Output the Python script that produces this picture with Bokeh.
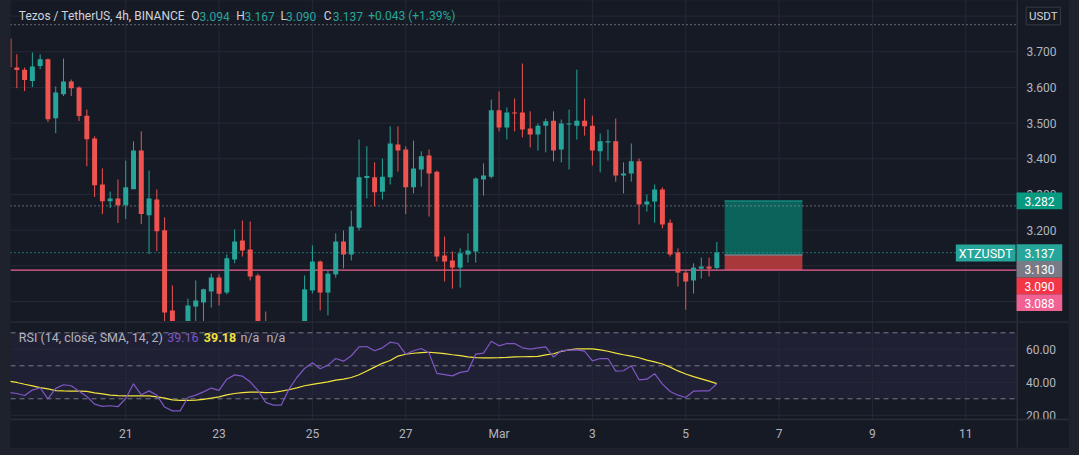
from bokeh.plotting import figure
from bokeh.layouts import column
from bokeh.models import Range1d, GlobalInlineStyleSheet
from bokeh.core.properties import value
from bokeh.embed import file_html
from bokeh.resources import INLINE

# ---------------- data (4h candles, XTZ/USDT, index -1 .. 90) ----------------
opens = [3.737, 3.656, 3.650, 3.618, 3.660, 3.679, 3.514, 3.581, 3.617, 3.600,
         3.521, 3.457, 3.328, 3.281, 3.289, 3.270, 3.315, 3.423, 3.242, 3.286,
         3.200, 2.975, 2.905, 2.930, 2.986, 2.997, 3.028, 3.067, 3.025, 3.118,
         3.171, 3.146, 3.073, 2.930, 2.900, 2.890, 2.885, 2.905, 2.940, 3.031,
         3.112, 3.025, 3.076, 3.168, 3.132, 3.207, 3.346, 3.348, 3.308, 3.348,
         3.440, 3.426, 3.320, 3.370, 3.409, 3.364, 3.129, 3.115, 3.095, 3.132,
         3.140, 3.342, 3.350, 3.536, 3.488, 3.530, 3.530, 3.485, 3.468, 3.493,
         3.507, 3.426, 3.496, 3.493, 3.507, 3.493, 3.421, 3.446, 3.449, 3.353,
         3.359, 3.393, 3.272, 3.280, 3.314, 3.221, 3.137, 3.081, 3.059, 3.092,
         3.098, 3.094]
highs = [3.745, 3.693, 3.656, 3.698, 3.693, 3.681, 3.603, 3.681, 3.622, 3.603,
         3.538, 3.463, 3.373, 3.308, 3.342, 3.395, 3.449, 3.477, 3.367, 3.314,
         3.236, 3.045, 2.940, 3.008, 3.059, 3.036, 3.078, 3.076, 3.132, 3.202,
         3.227, 3.224, 3.078, 2.972, 2.930, 2.920, 2.935, 2.943, 3.073, 3.157,
         3.115, 3.087, 3.191, 3.199, 3.255, 3.454, 3.435, 3.390, 3.401, 3.491,
         3.491, 3.435, 3.451, 3.421, 3.426, 3.367, 3.182, 3.140, 3.149, 3.191,
         3.348, 3.387, 3.566, 3.589, 3.544, 3.569, 3.667, 3.533, 3.499, 3.513,
         3.533, 3.510, 3.538, 3.650, 3.569, 3.521, 3.471, 3.482, 3.513, 3.390,
         3.443, 3.401, 3.300, 3.328, 3.320, 3.230, 3.149, 3.086, 3.107, 3.123,
         3.123, 3.167]
lows = [3.650, 3.598, 3.590, 3.601, 3.651, 3.503, 3.472, 3.576, 3.576, 3.506,
        3.379, 3.293, 3.245, 3.262, 3.220, 3.231, 3.315, 3.217, 3.133, 3.141,
        2.930, 2.870, 2.880, 2.910, 2.935, 2.940, 2.983, 2.989, 3.020, 3.107,
        3.126, 3.059, 2.910, 2.870, 2.800, 2.820, 2.870, 2.900, 2.930, 3.023,
        2.975, 2.961, 3.067, 3.093, 3.115, 3.199, 3.289, 3.267, 3.286, 3.328,
        3.364, 3.245, 3.303, 3.322, 3.238, 3.112, 3.056, 3.036, 3.039, 3.109,
        3.109, 3.297, 3.345, 3.477, 3.454, 3.477, 3.460, 3.432, 3.423, 3.418,
        3.393, 3.390, 3.370, 3.454, 3.465, 3.381, 3.362, 3.395, 3.336, 3.303,
        3.336, 3.216, 3.252, 3.221, 3.205, 3.126, 3.042, 2.977, 3.022, 3.064,
        3.070, 3.090]
closes = [3.657, 3.649, 3.621, 3.659, 3.679, 3.511, 3.586, 3.617, 3.598, 3.520,
          3.455, 3.326, 3.281, 3.289, 3.270, 3.320, 3.423, 3.245, 3.289, 3.197,
          2.969, 2.910, 2.930, 2.989, 3.003, 3.034, 3.067, 3.022, 3.121, 3.168,
          3.143, 3.070, 2.930, 2.900, 2.890, 2.885, 2.905, 2.940, 3.034, 3.112,
          3.025, 3.078, 3.168, 3.132, 3.210, 3.348, 3.352, 3.306, 3.350, 3.443,
          3.423, 3.320, 3.373, 3.407, 3.359, 3.126, 3.112, 3.095, 3.135, 3.143,
          3.345, 3.353, 3.536, 3.488, 3.530, 3.527, 3.482, 3.468, 3.493, 3.505,
          3.423, 3.499, 3.499, 3.507, 3.491, 3.423, 3.449, 3.449, 3.353, 3.359,
          3.393, 3.272, 3.280, 3.314, 3.216, 3.132, 3.081, 3.056, 3.095, 3.098,
          3.092, 3.137]
first_index = -1

rsi = [33.8, 33.2, 32.0, 35.3, 36.7, 30.0, 36.3, 38.5, 37.9, 34.6,
       31.4, 26.8, 25.4, 25.8, 25.2, 30.2, 39.1, 32.4, 34.8, 32.2,
       25.0, 22.7, 22.7, 30.8, 32.2, 34.2, 36.5, 35.1, 41.9, 44.5,
       43.7, 40.3, 35.1, 27.8, 26.2, 26.2, 35.9, 42.9, 48.4, 51.8,
       48.2, 50.4, 54.4, 52.8, 56.1, 61.5, 61.7, 59.1, 60.9, 64.3,
       63.5, 57.1, 59.1, 60.5, 57.7, 45.4, 44.7, 43.9, 46.0, 46.8,
       57.1, 57.7, 64.9, 62.1, 63.5, 63.5, 60.9, 60.1, 60.9, 61.5,
       55.3, 59.1, 59.5, 59.7, 58.9, 53.0, 54.4, 54.4, 46.8, 47.0,
       50.0, 41.5, 41.9, 45.2, 38.9, 34.4, 32.2, 30.8, 34.6, 34.8,
       34.8, 39.16]
rsi_ma = [40.6, 39.9, 38.8, 37.8, 36.8, 36.0, 35.0, 34.8, 34.7, 34.6,
          34.5, 33.6, 33.0, 32.2, 31.9, 31.8, 31.8, 31.8, 31.8, 31.2,
          30.4, 29.4, 29.0, 29.1, 29.2, 29.7, 30.4, 31.2, 32.4, 33.2,
          33.8, 34.0, 34.0, 33.8, 33.9, 34.6, 35.5, 36.6, 37.9, 38.7,
          39.5, 40.3, 41.3, 41.9, 42.9, 44.6, 46.8, 49.2, 51.5, 53.2,
          55.9, 57.0, 57.6, 58.0, 58.2, 57.8, 57.4, 56.7, 56.2, 55.4,
          54.9, 54.8, 54.8, 54.9, 55.1, 55.4, 55.5, 55.6, 55.7, 56.6,
          57.3, 58.7, 59.6, 60.3, 60.3, 60.2, 59.6, 58.8, 57.7, 56.7,
          55.9, 54.9, 53.4, 52.4, 51.1, 49.2, 46.9, 45.0, 43.4, 42.1,
          40.7, 39.18]

date_tick_index = [14, 26, 38, 50, 62, 74, 86, 98, 110, 122]
date_tick_labels = ["21", "23", "25", "27", "Mar", "3", "5", "7", "9", "11"]
price_grid = [3.8, 3.7, 3.6, 3.5, 3.4, 3.3, 3.2, 3.1, 3.0, 2.9]
price_labels = [3.7, 3.6, 3.5, 3.4, 3.3, 3.2]
rsi_grid = [20, 40, 60, 80]
rsi_levels = [30, 50, 70]
rsi_axis_ticks = [60, 40, 20]

position_start, position_end = 91, 101
target_price, entry_price, stop_price = 3.282, 3.130, 3.090
last_price = 3.137
hline_price = 3.088
dotted_prices = [3.776, 3.268]
price_tags = ["3.282", "3.137", "3.130", "3.090", "3.088"]
price_tag_colors = ["#089981", "#26a69a", "#787b86", "#f23645", "#f06292"]
header_values = ["3.094", "3.167", "3.090", "3.137"]
header_change = "+0.043 (+1.39%)"
rsi_value, rsi_ma_value = "39.16", "39.18"

# ---------------- pixel helpers (page coordinates -> data) ----------------
X0, DX = 16.33, 7.778
def px2i(px):
    return (px - X0) / DX
def py2p(py):
    return 3.7 - (py - 51.3) / 356.7
def py2r(py):
    return 70 - (py - 332.3) / 1.65

BG = "#161a25"
FRAME = "#1e222d"
GRID = "#252935"
SEP = "#2a2e39"
TXT = "#b2b5be"
UP, DOWN = "#26a69a", "#ef5350"
FONT = value("Roboto")

PANE_L, PANE_R, AXIS_R = 10, 1016.7, 1068
xr = Range1d(px2i(PANE_L), px2i(AXIS_R))

# ================= main pane =================
p = figure(width=1079, height=321, x_range=xr, y_range=Range1d(py2p(321), py2p(0)),
           output_backend="svg", toolbar_location=None, x_axis_type=None, y_axis_type=None,
           min_border_left=10, min_border_right=11, min_border_top=0, min_border_bottom=0,
           background_fill_color=BG, border_fill_color=FRAME, outline_line_color=None)
p.grid.visible = False

xl, xe = px2i(PANE_L), px2i(PANE_R)
# grid
p.segment(x0=[xl] * len(price_grid), x1=[xe] * len(price_grid), y0=price_grid, y1=price_grid,
          line_color=GRID, line_width=1)
p.segment(x0=date_tick_index, x1=date_tick_index, y0=[py2p(330)] * 10, y1=[py2p(-5)] * 10,
          line_color=GRID, line_width=1)

# position tool
p.quad(left=[position_start], right=[position_end], bottom=[entry_price], top=[target_price],
       fill_color="#0b6b63", fill_alpha=0.9, line_color=None)
p.quad(left=[position_start], right=[position_end], bottom=[stop_price - 0.002], top=[entry_price],
       fill_color="#b03a3a", fill_alpha=0.95, line_color=None)
p.segment(x0=[position_start], x1=[position_end], y0=[target_price], y1=[target_price],
          line_color="#13897c", line_width=1.5)
p.segment(x0=[position_start], x1=[position_end], y0=[entry_price], y1=[entry_price],
          line_color="#787b86", line_width=1.5)

# horizontal lines
p.segment(x0=[xl] * 2, x1=[xe] * 2, y0=dotted_prices, y1=dotted_prices,
          line_color="#9598a1", line_dash="1 3", line_width=1.3)
p.segment(x0=[xl], x1=[xe], y0=[last_price], y1=[last_price],
          line_color=UP, line_dash="1 3", line_width=1.3)
p.segment(x0=[xl], x1=[xe], y0=[hline_price], y1=[hline_price],
          line_color="#f06292", line_width=1.2)

# candles
idx = list(range(first_index, first_index + len(opens)))
cols = [UP if c >= o else DOWN for o, c in zip(opens, closes)]
minh = 1.0 / 356.7
btop = [max(o, c) if abs(o - c) > minh else max(o, c) + minh / 2 for o, c in zip(opens, closes)]
bbot = [min(o, c) if abs(o - c) > minh else min(o, c) - minh / 2 for o, c in zip(opens, closes)]
p.segment(x0=idx, x1=idx, y0=lows, y1=highs, line_color=cols, line_width=1)
p.vbar(x=idx, width=0.64, top=btop, bottom=bbot, fill_color=cols, line_color=None)

# price axis region
ax_c = px2i((PANE_R + AXIS_R) / 2)
ax_w = px2i(AXIS_R) - px2i(PANE_R)
p.rect(x=[ax_c], y=[py2p(160)], width=ax_w, height=py2p(-10) - py2p(330),
       fill_color=BG, line_color=None)
p.segment(x0=[xe], x1=[xe], y0=[py2p(330)], y1=[py2p(-5)], line_color=SEP, line_width=1.5)
p.text(x=[px2i(1041)] * len(price_labels), y=price_labels, text=["%.3f" % t for t in price_labels],
       text_font=FONT, text_font_size="12px", text_color=TXT, text_align="center",
       text_baseline="middle")

# USDT box
p.rect(x=[px2i(1042.8)], y=[py2p(15.5)], width=34.3 / DX, height=17.6 / 356.7,
       fill_color=BG, line_color="#363a45", line_width=1)
p.text(x=[px2i(1042.8)], y=[py2p(15.8)], text=["USDT"], text_font=FONT, text_font_size="11.5px",
       text_color="#d1d4dc", text_align="center", text_baseline="middle")

# price tags (stacked)
tag_h = 16.7
tag_y = []
prev = -1e9
for t in price_tags:
    natural = 51.3 + (3.7 - float(t)) * 356.7
    yy = max(natural, prev + tag_h)
    tag_y.append(yy)
    prev = yy
p.rect(x=[px2i(1038.9)] * len(price_tags), y=[py2p(v) for v in tag_y], width=45.7 / DX,
       height=tag_h / 356.7, fill_color=price_tag_colors, line_color=None)
p.text(x=[px2i(1039)] * len(price_tags), y=[py2p(v + 0.5) for v in tag_y], text=price_tags,
       text_font=FONT, text_font_size="12px", text_color="#ffffff", text_align="center",
       text_baseline="middle")

# symbol label
p.rect(x=[px2i(985.2)], y=[py2p(252.5)], width=59.7 / DX, height=17 / 356.7,
       fill_color=UP, line_color=None)
p.text(x=[px2i(985.2)], y=[py2p(253)], text=["XTZUSDT"], text_font=FONT, text_font_size="12.5px",
       text_color="#ffffff", text_align="center", text_baseline="middle")

# header
hy = py2p(15.5)
p.text(x=[px2i(18.3)], y=[hy], text=["Tezos / TetherUS, 4h, BINANCE"], text_font=FONT,
       text_font_size="12px", text_color="#d1d4dc", text_baseline="middle")
p.text(x=[px2i(v) for v in (190.7, 235.7, 280, 323.3)], y=[hy] * 4, text=["O", "H", "L", "C"],
       text_font=FONT, text_font_size="12px", text_color="#d1d4dc", text_baseline="middle")
p.text(x=[px2i(v) for v in (199, 244, 285.5, 332.3, 367.7)], y=[hy] * 5,
       text=header_values + [header_change], text_font=FONT, text_font_size="12px",
       text_color=UP, text_baseline="middle")

# ================= RSI pane + time axis =================
r = figure(width=1079, height=134, x_range=xr, y_range=Range1d(py2r(447), py2r(321)),
           output_backend="svg", toolbar_location=None, x_axis_type=None, y_axis_type=None,
           min_border_left=10, min_border_right=11, min_border_top=0, min_border_bottom=8,
           background_fill_color=BG, border_fill_color=FRAME, outline_line_color=None)
r.grid.visible = False

r.quad(left=[xl], right=[xe], bottom=[30], top=[70], fill_color="#7e57c2", fill_alpha=0.1,
       line_color=None)
r.segment(x0=[xl] * len(rsi_grid), x1=[xe] * len(rsi_grid), y0=rsi_grid, y1=rsi_grid,
          line_color=GRID, line_width=1)
r.segment(x0=date_tick_index, x1=date_tick_index, y0=[py2r(419)] * 10, y1=[py2r(321)] * 10,
          line_color=GRID, line_width=1)
r.segment(x0=[xl] * 3, x1=[xe] * 3, y0=rsi_levels, y1=rsi_levels,
          line_color="#787b86", line_dash="5 4", line_width=1)
r.line(idx, rsi_ma, line_color="#f2e33d", line_width=1.2)
r.line(idx, rsi, line_color="#7e57c2", line_width=1.2)

# title
ty = py2r(337.3)
r.text(x=[px2i(18.3)], y=[ty], text=["RSI (14, close, SMA, 14, 2)"], text_font=FONT,
       text_font_size="12.5px", text_color="#b2b5be", text_baseline="middle")
r.text(x=[px2i(166.7)], y=[ty], text=[rsi_value], text_font=FONT, text_font_size="12.5px",
       text_color="#7e57c2", text_baseline="middle")
r.text(x=[px2i(203.3)], y=[ty], text=[rsi_ma_value], text_font=FONT, text_font_size="12.5px",
       text_color="#f2e33d", text_font_style="bold", text_baseline="middle")
r.text(x=[px2i(240), px2i(266)], y=[ty, ty], text=["n/a", "n/a"], text_font=FONT,
       text_font_size="12.5px", text_color="#b2b5be", text_baseline="middle")

# RSI axis
r.rect(x=[ax_c], y=[py2r(384)], width=ax_w, height=py2r(300) - py2r(460),
       fill_color=BG, line_color=None)
r.text(x=[px2i(1040.5)] * 3, y=rsi_axis_ticks, text=["%.2f" % t for t in rsi_axis_ticks],
       text_font=FONT, text_font_size="12px", text_color=TXT, text_align="center",
       text_baseline="middle")

# time axis strip
r.quad(left=[px2i(0)], right=[px2i(1100)], bottom=[py2r(460)], top=[py2r(419)],
       fill_color=BG, line_color=None)
r.text(x=date_tick_index, y=[py2r(433)] * 10, text=date_tick_labels, text_font=FONT,
       text_font_size="12px", text_color=TXT, text_align="center", text_baseline="middle")

# separators
r.segment(x0=[px2i(0)] * 2, x1=[px2i(1100)] * 2, y0=[py2r(321.5), py2r(419)],
          y1=[py2r(321.5), py2r(419)], line_color=SEP, line_width=1.5)
r.segment(x0=[xe], x1=[xe], y0=[py2r(460)], y1=[py2r(300)], line_color=SEP, line_width=1.5)

layout = column(p, r, spacing=0)
layout.stylesheets = [GlobalInlineStyleSheet(css="body { background: #1e222d; }")]

open("out.html", "w").write(file_html(layout, INLINE))
